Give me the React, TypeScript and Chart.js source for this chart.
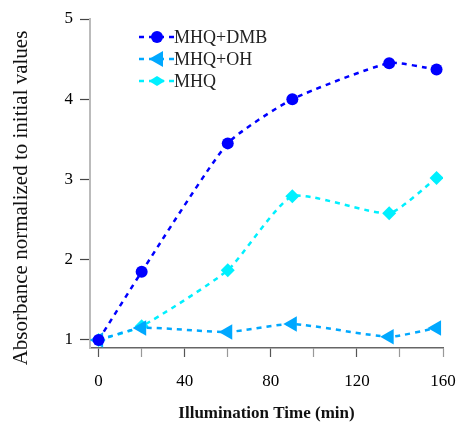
import React, { useEffect, useRef } from "react";
import { Chart, registerables } from "chart.js";

Chart.register(...registerables);

const timeMin = [0, 20, 60, 90, 135, 157];
const mhqDmb = [1.0, 1.85, 3.45, 4.0, 4.45, 4.37];
const mhqOh = [1.0, 1.15, 1.1, 1.2, 1.04, 1.15];
const mhq = [1.0, 1.17, 1.87, 2.79, 2.58, 3.02];

const seriesNames = ["MHQ+DMB", "MHQ+OH", "MHQ"];
const seriesColors = ["#0000ff", "#00a8ff", "#00f0ff"];
const seriesMarkers = ["circle", "triangleLeft", "diamond"];

const xTicks = [0, 20, 40, 60, 80, 100, 120, 140, 160];
const xLabelTicks = [0, 40, 80, 120, 160];
const yTicks = [1, 2, 3, 4, 5];

const yTitle = "Absorbance normalized to initial values";
const xTitle = "Illumination Time (min)";

const SERIF = "'Liberation Serif', 'Times New Roman', serif";

function drawMarker(ctx: CanvasRenderingContext2D, kind: string, x: number, y: number, color: string) {
  ctx.save();
  ctx.fillStyle = color;
  ctx.beginPath();
  if (kind === "circle") {
    ctx.arc(x, y, 6, 0, Math.PI * 2);
  } else if (kind === "triangleLeft") {
    ctx.moveTo(x - 8, y);
    ctx.lineTo(x + 6, y - 8);
    ctx.lineTo(x + 6, y + 8);
    ctx.closePath();
  } else {
    ctx.moveTo(x - 8, y);
    ctx.lineTo(x, y - 5);
    ctx.lineTo(x + 8, y);
    ctx.lineTo(x, y + 5);
    ctx.closePath();
  }
  ctx.fill();
  ctx.restore();
}

const legendPlugin = {
  id: "customLegend",
  afterDraw(chart: any) {
    const ctx = chart.ctx as CanvasRenderingContext2D;
    const rows = [37, 59, 81];
    seriesNames.forEach((name, i) => {
      const y = rows[i];
      ctx.save();
      ctx.strokeStyle = seriesColors[i];
      ctx.lineWidth = 2.5;
      ctx.setLineDash([5, 5]);
      ctx.beginPath();
      ctx.moveTo(139, y);
      ctx.lineTo(174, y);
      ctx.stroke();
      ctx.restore();
      drawMarker(ctx, seriesMarkers[i], 157, y, seriesColors[i]);
      ctx.save();
      ctx.fillStyle = "#222";
      ctx.font = `18px ${SERIF}`;
      ctx.textBaseline = "middle";
      ctx.fillText(name, 174, y + 1);
      ctx.restore();
    });
    // y axis title
    ctx.save();
    ctx.translate(27, 198);
    ctx.rotate(-Math.PI / 2);
    ctx.fillStyle = "#111";
    ctx.font = `21px ${SERIF}`;
    ctx.textAlign = "center";
    ctx.textBaseline = "alphabetic";
    ctx.fillText(yTitle, 0, 0);
    ctx.restore();
  },
};

function toPoints(vals: number[]) {
  return vals.map((v, i) => ({ x: timeMin[i], y: v }));
}

export default function App() {
  const ref = useRef<HTMLCanvasElement | null>(null);
  useEffect(() => {
    document.body.style.margin = "0";
    const canvas = ref.current!;
    const common = {
      borderWidth: 2.5,
      borderDash: [5, 5],
      tension: 0.18,
      fill: false,
    };
    const chart = new Chart(canvas, {
      type: "line",
      data: {
        datasets: [
          {
            ...common,
            label: seriesNames[0],
            data: toPoints(mhqDmb),
            borderColor: seriesColors[0],
            backgroundColor: seriesColors[0],
            pointStyle: "circle",
            pointRadius: 6,
            pointBorderWidth: 0,
          },
          {
            ...common,
            label: seriesNames[1],
            data: toPoints(mhqOh),
            borderColor: seriesColors[1],
            backgroundColor: seriesColors[1],
            pointStyle: "triangle",
            pointRotation: -90,
            pointRadius: 9,
            pointBorderWidth: 0,
          },
          {
            ...common,
            label: seriesNames[2],
            data: toPoints(mhq),
            borderColor: seriesColors[2],
            backgroundColor: seriesColors[2],
            pointStyle: "rectRot",
            pointRadius: 7,
            pointBorderWidth: 0,
          },
        ],
      },
      options: {
        responsive: false,
        animation: false,
        devicePixelRatio: 1,
        layout: { padding: { top: 19, right: 14, left: 0, bottom: 0 } },
        plugins: { legend: { display: false }, tooltip: { enabled: false } },
        scales: {
          x: {
            type: "linear",
            min: -4,
            max: 160,
            afterFit: (s: any) => {
              s.height = 76;
              s.paddingLeft = 0;
              s.paddingRight = 0;
            },
            afterBuildTicks: (s: any) => {
              s.ticks = xTicks.map((v) => ({ value: v }));
            },
            grid: {
              drawOnChartArea: false,
              drawTicks: true,
              tickLength: 9,
              tickWidth: 1.2,
              tickColor: (c: any) =>
                c.tick && xLabelTicks.includes(c.tick.value) && c.tick.value !== 160 ? "#555" : "#999",
            },
            border: { display: true, color: "#666", width: 1.5 },
            ticks: {
              autoSkip: false,
              maxRotation: 0,
              padding: 14,
              color: "#000",
              font: { family: SERIF, size: 17 },
              callback: (v: any) => (xLabelTicks.includes(v) ? String(v) : ""),
            },
            title: {
              display: true,
              text: xTitle,
              color: "#111",
              font: { family: SERIF, size: 17, weight: "bold" },
              padding: { top: 0, bottom: 0 },
            },
          },
          y: {
            type: "linear",
            min: 0.9,
            max: 5,
            afterFit: (s: any) => {
              s.width = 90;
              s.paddingTop = 0;
              s.paddingBottom = 0;
            },
            afterBuildTicks: (s: any) => {
              s.ticks = yTicks.map((v) => ({ value: v }));
            },
            grid: {
              drawOnChartArea: false,
              drawTicks: true,
              tickLength: 10,
              tickWidth: 1.2,
              tickColor: "#444",
            },
            border: { display: true, color: "#bbb", width: 2 },
            ticks: {
              padding: 7,
              color: "#000",
              font: { family: SERIF, size: 17 },
              callback: (v: any) => String(v),
            },
            title: { display: false },
          },
        },
      },
      plugins: [legendPlugin],
    } as any);
    return () => chart.destroy();
  }, []);
  return <canvas ref={ref} width={457} height={424} style={{ display: "block", width: 457, height: 424 }} />;
}
